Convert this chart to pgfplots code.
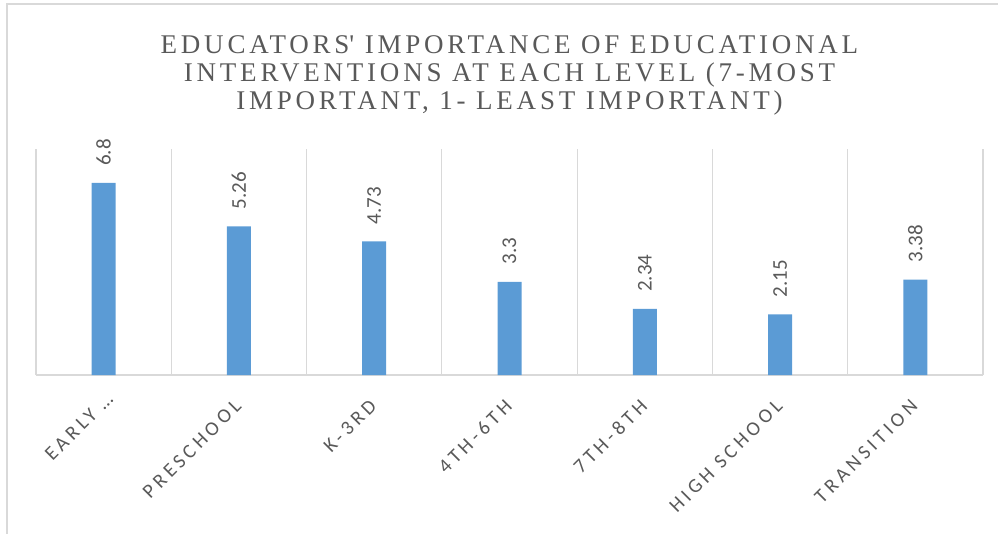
\documentclass[border=0pt]{standalone}
\usepackage{fontspec}
\setmainfont{Liberation Serif}
\newfontfamily\carlito{Carlito}
\newfontfamily\titlefont[LetterSpace=14]{Liberation Serif}
\newfontfamily\tickfont[LetterSpace=20]{Carlito}
\usepackage{pgfplots}
\pgfplotsset{compat=1.18}
\definecolor{barblue}{HTML}{5B9BD5}
\definecolor{txtgray}{HTML}{595959}
\definecolor{gridgray}{HTML}{D9D9D9}
\begin{document}
\begin{tikzpicture}
\begin{axis}[
  scale only axis, width=947pt, height=226pt,
  xmin=-0.5, xmax=6.5, ymin=0, ymax=8,
  axis x line*=bottom, axis y line=none,
  x axis line style={gridgray, line width=1.5pt, -},
  xtick={0,...,6},
  xticklabels={EARLY …\kern-10pt, PRESCHOOL, K-3RD, 4TH-6TH, 7TH-8TH, HIGH SCHOOL, TRANSITION},
  major tick length=0pt, minor tick length=0pt,
  xtick style={draw=none},
  minor xtick={-0.5,0.5,...,6.5},
  xminorgrids, minor grid style={gridgray, line width=1.2pt},
  x tick label style={xshift=-1pt, yshift=-28pt, rotate=45, anchor=east, inner sep=0pt,
    font=\tickfont\fontsize{20}{20}\selectfont, text=txtgray},
  clip=false,
  title={EDUCATORS\textquotesingle\ IMPORTANCE OF EDUCATIONAL\\INTERVENTIONS AT EACH LEVEL (7-MOST\\IMPORTANT, 1- LEAST IMPORTANT)},
  title style={font=\titlefont\fontsize{27}{28}\selectfont, text=txtgray, align=center,
    at={(0.5,1)}, anchor=center, yshift=68pt},
  nodes near coords={\rotatebox{90}{\pgfplotspointmeta}},
  point meta=explicit symbolic,
]
\addplot[ybar, bar width=24pt, fill=barblue, draw=none,
  every node near coord/.append style={anchor=south, inner sep=0pt, yshift=17pt,
    font=\carlito\fontsize{21}{21}\selectfont, text=txtgray}] table[meta=label] {
x y label
0 6.8 6.8
1 5.26 5.26
2 4.73 4.73
3 3.3 3.3
4 2.34 2.34
5 2.15 2.15
6 3.38 3.38
};
\end{axis}
\draw[gridgray, line width=2pt] (-29pt,-170pt) -- (-29pt,371pt) -- (970pt,371pt);
\pgfresetboundingbox
\useasboundingbox (-36pt,-158pt) rectangle (962pt,375pt);
\end{tikzpicture}
\end{document}
